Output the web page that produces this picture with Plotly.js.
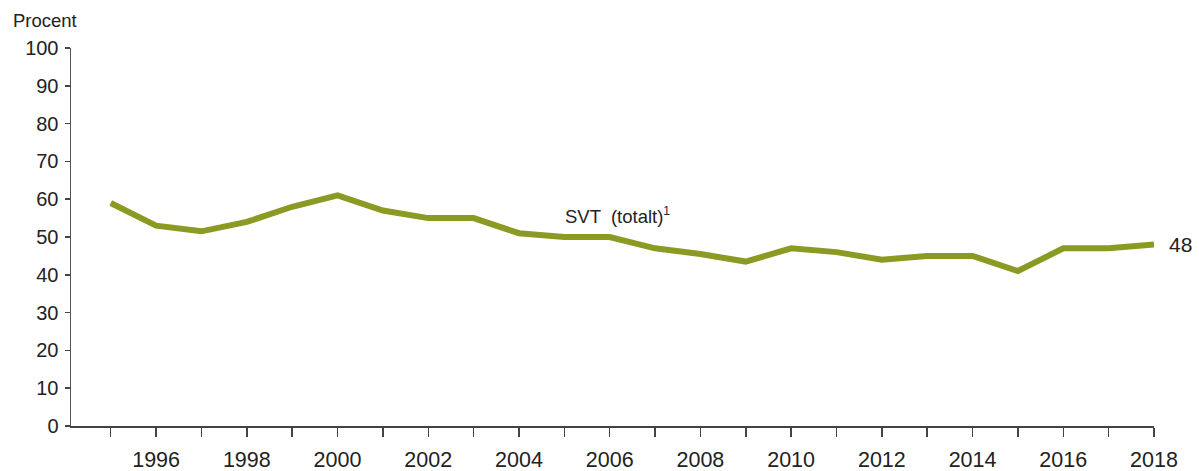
<!DOCTYPE html>
<html>
<head>
<meta charset="utf-8">
<script src="https://cdn.plot.ly/plotly-3.0.1.min.js"></script>
<style>html,body{margin:0;padding:0;background:#fff;}#chart{width:1199px;height:471px;}</style>
</head>
<body>
<div id="chart"></div>
<script>
const years = [1995,1996,1997,1998,1999,2000,2001,2002,2003,2004,2005,2006,2007,2008,2009,2010,2011,2012,2013,2014,2015,2016,2017,2018];
const svtTotal = [59,53,51.5,54,58,61,57,55,55,51,50,50,47,45.5,43.5,47,46,44,45,45,41,47,47,48];
const xTickYears = [1996,1998,2000,2002,2004,2006,2008,2010,2012,2014,2016,2018];
const xTickLabels = ['1996','1998','2000','2002','2004','2006','2008','2010','2012','2014','2016','2018'];
const xMinorYears = [1995,1997,1999,2001,2003,2005,2007,2009,2011,2013,2015,2017];
const yTicks = [0,10,20,30,40,50,60,70,80,90,100];
const seriesName = 'SVT  (totalt)<sup><span style="font-size:12px">1</span></sup>';
const endLabel = '48';

const fam = 'Liberation Sans, Arial, Helvetica, sans-serif';
const textColor = '#222';
const lineColor = '#8b9a22';

const trace = {
  x: years, y: svtTotal, type: 'scatter', mode: 'lines',
  line: {color: lineColor, width: 6}, hoverinfo: 'skip'
};

const layout = {
  width: 1199, height: 471,
  margin: {l: 71, r: 45, t: 48, b: 45},
  paper_bgcolor: '#fff', plot_bgcolor: '#fff',
  showlegend: false,
  font: {family: fam, size: 20, color: textColor},
  xaxis: {
    range: [1994.124, 2018], tickmode: 'array', tickvals: xTickYears, ticktext: xTickLabels,
    showgrid: false, zeroline: false, showline: true, linecolor: '#444', linewidth: 1.5,
    ticks: 'outside', ticklen: 9, tickwidth: 1.5, tickcolor: '#444',
    minor: {tickmode: 'array', tickvals: xMinorYears, ticks: 'outside', ticklen: 9, tickwidth: 1.5, tickcolor: '#444', showgrid: false},
    tickfont: {family: fam, size: 21.5, color: textColor}, ticklabelstandoff: 5, fixedrange: true
  },
  yaxis: {
    range: [0, 100], tickvals: yTicks,
    showgrid: false, zeroline: false, showline: true, linecolor: '#555', linewidth: 1.5,
    ticks: 'outside', ticklen: 5, tickwidth: 1.5, tickcolor: '#444',
    tickfont: {family: fam, size: 20, color: textColor}, ticklabelstandoff: 2, fixedrange: true
  },
  annotations: [
    {xref: 'paper', yref: 'paper', x: -0.0555, y: 1.0, yshift: 28, xanchor: 'left', yanchor: 'middle',
     text: 'Procent', showarrow: false, font: {family: fam, size: 18.5, color: textColor}},
    {xref: 'x', yref: 'y', x: 2006.17, y: 55.8, xanchor: 'center', yanchor: 'middle',
     text: seriesName, showarrow: false, font: {family: fam, size: 18.5, color: textColor}},
    {xref: 'x', yref: 'y', x: years[years.length-1], y: svtTotal[svtTotal.length-1], xshift: 13,
     xanchor: 'left', yanchor: 'middle', text: endLabel, showarrow: false, font: {family: fam, size: 21, color: textColor}}
  ]
};

Plotly.newPlot('chart', [trace], layout, {displayModeBar: false, staticPlot: true});
</script>
</body>
</html>
